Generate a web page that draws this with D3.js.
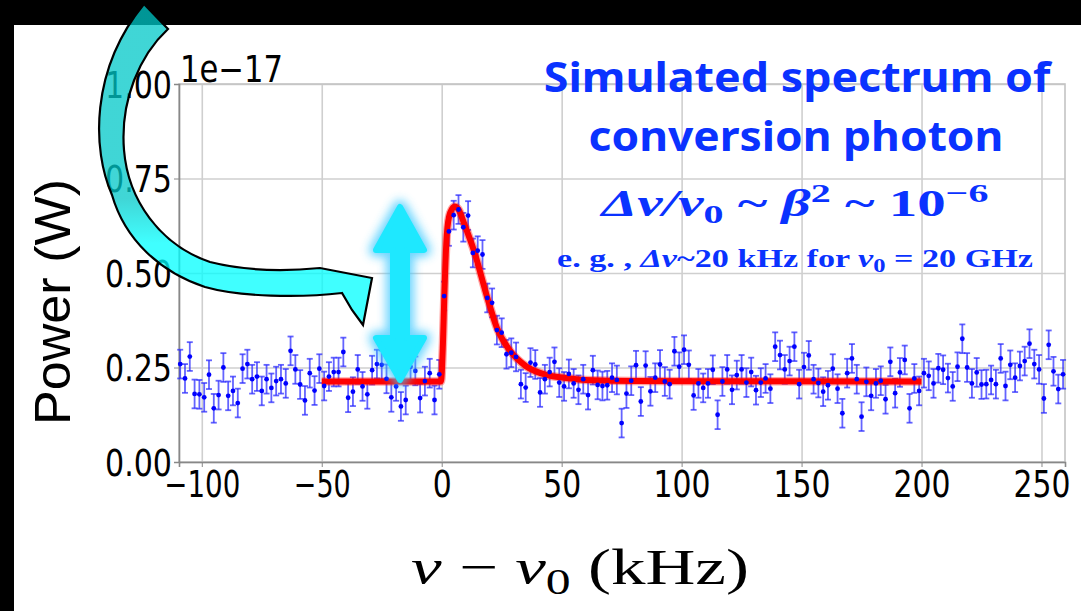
<!DOCTYPE html>
<html>
<head>
<meta charset="utf-8">
<script src="https://cdn.jsdelivr.net/npm/d3@7"></script>
<style>
  body { margin: 0; background: #fff; }
  svg { display: block; }
</style>
</head>
<body>
<div id="chart"></div>
<script>
// Data (power in units of 1e-17 W)
var freqStart = -109, freqStep = 2;
var powerVals = [
  0.259,0.221,0.279,0.180,0.179,0.171,0.231,0.142,0.177,0.250,
  0.175,0.188,0.156,0.247,0.259,0.219,0.226,0.188,0.219,0.196,
  0.214,0.219,0.208,0.294,0.245,0.205,0.163,0.235,0.189,0.247,
  0.201,0.226,0.238,0.238,0.291,0.170,0.186,0.245,0.200,0.179,
  0.243,0.259,0.257,0.220,0.171,0.200,0.147,0.164,0.252,0.241,
  0.169,0.214,0.235,0.164,0.232,0.439,0.610,0.653,0.668,0.621,
  0.652,0.553,0.559,0.549,0.434,0.421,0.349,0.342,0.285,0.289,
  0.278,0.206,0.197,0.263,0.258,0.184,0.219,0.238,0.265,0.210,
  0.200,0.233,0.208,0.191,0.219,0.177,0.243,0.204,0.201,0.203,
  0.223,0.217,0.103,0.181,0.215,0.256,0.160,0.255,0.187,0.223,
  0.258,0.213,0.206,0.293,0.252,0.297,0.257,0.176,0.208,0.196,
  0.208,0.244,0.125,0.213,0.245,0.191,0.230,0.245,0.210,0.238,
  0.190,0.210,0.221,0.194,0.305,0.283,0.245,0.267,0.305,0.206,
  0.251,0.282,0.219,0.209,0.186,0.203,0.247,0.194,0.129,0.235,
  0.274,0.219,0.120,0.212,0.175,0.208,0.215,0.166,0.265,0.182,
  0.237,0.270,0.142,0.221,0.188,0.235,0.228,0.208,0.248,0.244,
  0.222,0.200,0.252,0.326,0.250,0.208,0.237,0.205,0.206,0.217,
  0.206,0.274,0.201,0.257,0.223,0.254,0.267,0.313,0.259,0.245,
  0.168,0.310,0.240,0.193,0.232
];
var powerErr = 0.038;

// fitted curve (red)
var fitX = [-50, -0.3, 0.5, 1.1, 2.1, 3.5, 5.5, 7, 9.5, 13.5, 19, 23, 28.5, 35, 44, 51, 60, 80, 200];
var fitY = [0.213, 0.213, 0.31, 0.44, 0.60, 0.659, 0.676, 0.668, 0.628, 0.558, 0.435, 0.355, 0.294, 0.254, 0.230, 0.223, 0.217, 0.214, 0.213];

var xTicks = [-100, -50, 0, 50, 100, 150, 200, 250];
var yTicks = [0, 0.25, 0.5, 0.75, 1.0];

var points = powerVals.map(function(v, i) {
  return {f: freqStart + i * freqStep, p: v};
});
var fitData = fitX.map(function(x, i) { return {f: x, p: fitY[i]}; });

// Set up chart
var svgWidth = 1081, svgHeight = 611;
var margin = {top: 84, right: 16, bottom: 149, left: 179};
var width = svgWidth - margin.left - margin.right;
var height = svgHeight - margin.top - margin.bottom;

var svg = d3.select('#chart').append('svg')
  .attr('width', svgWidth)
  .attr('height', svgHeight);

svg.append('rect').attr('width', svgWidth).attr('height', svgHeight).attr('fill', '#fff');
svg.append('rect').attr('width', svgWidth).attr('height', 25).attr('fill', '#000');
svg.append('rect').attr('width', 14).attr('height', svgHeight).attr('fill', '#000');

var defs = svg.append('defs');
var grad = defs.append('linearGradient').attr('id', 'arrowGrad')
  .attr('gradientUnits', 'userSpaceOnUse')
  .attr('x1', 0).attr('y1', 0).attr('x2', 0).attr('y2', 320);
grad.append('stop').attr('offset', '0%').attr('stop-color', 'rgb(0,200,200)');
grad.append('stop').attr('offset', '62%').attr('stop-color', 'rgb(0,200,200)');
grad.append('stop').attr('offset', '76%').attr('stop-color', 'rgb(0,255,255)');
grad.append('stop').attr('offset', '100%').attr('stop-color', 'rgb(0,255,255)');
var glow = defs.append('filter').attr('id', 'glow')
  .attr('x', '-50%').attr('y', '-20%').attr('width', '200%').attr('height', '140%');
glow.append('feGaussianBlur').attr('stdDeviation', 5);

var chart = svg.append('g')
  .attr('transform', `translate(${margin.left}, ${margin.top})`);

var x = d3.scaleLinear().domain([-109.5, 259.8]).range([0, width]);
var y = d3.scaleLinear().domain([0, 1]).range([height, 0]);

// grid
chart.append('g')
  .attr('transform', `translate(0, ${height})`)
  .call(d3.axisBottom(x).tickValues(xTicks).tickSize(-height).tickFormat(''))
  .call(g => g.select('.domain').remove())
  .call(g => g.selectAll('line').attr('stroke', '#cfcfcf').attr('stroke-width', 1.6));
chart.append('g')
  .call(d3.axisLeft(y).tickValues(yTicks).tickSize(-width).tickFormat(''))
  .call(g => g.select('.domain').remove())
  .call(g => g.selectAll('line').attr('stroke', '#cfcfcf').attr('stroke-width', 1.6));

// frame
chart.append('rect')
  .attr('width', width).attr('height', height)
  .attr('fill', 'none').attr('stroke', '#c4c4c4').attr('stroke-width', 1.6);

function labelWidth(s) {
  var w = 0;
  for (var c of s) w += (c === '.') ? 10 : 19;
  return w;
}

// axes
var fmtX = d => d3.format('d')(d).replace('-', '\u2212');
var xAxis = chart.append('g')
  .attr('transform', `translate(0, ${height})`)
  .call(d3.axisBottom(x).tickValues(xTicks).tickSize(5).tickPadding(3).tickFormat(fmtX));
xAxis.select('.domain').attr('stroke', '#888').attr('stroke-width', 1.6);
xAxis.selectAll('line').attr('stroke', '#888');
xAxis.selectAll('text')
  .attr('fill', '#000')
  .style('font-family', 'DejaVu Sans')
  .style('font-size', '37px')
  .attr('dy', '0.72em')
  .attr('textLength', d => labelWidth(fmtX(d)))
  .attr('lengthAdjust', 'spacingAndGlyphs');

var yAxis = chart.append('g')
  .call(d3.axisLeft(y).tickValues(yTicks).tickSize(5).tickPadding(2).tickFormat(d3.format('.2f')));
yAxis.select('.domain').attr('stroke', '#888').attr('stroke-width', 1.6);
yAxis.selectAll('line').attr('stroke', '#888');
yAxis.selectAll('text')
  .attr('fill', '#000')
  .style('font-family', 'DejaVu Sans')
  .style('font-size', '37px')
  .attr('dy', '0.36em')
  .attr('textLength', d => labelWidth(d3.format('.2f')(d)))
  .attr('lengthAdjust', 'spacingAndGlyphs');

chart.append('text')
  .attr('x', 1).attr('y', -2)
  .style('font-family', 'DejaVu Sans')
  .style('font-size', '37px')
  .attr('textLength', 103).attr('lengthAdjust', 'spacingAndGlyphs')
  .text('1e\u221217');

// error bars
var bars = chart.append('g');
var barColor = 'rgba(40,40,255,0.72)';
bars.selectAll('line.err').data(points).enter().append('line')
  .attr('x1', d => x(d.f)).attr('x2', d => x(d.f))
  .attr('y1', d => y(d.p - powerErr)).attr('y2', d => y(d.p + powerErr))
  .attr('stroke', barColor).attr('stroke-width', 1.8);
[-1, 1].forEach(function(s) {
  bars.selectAll('line.cap' + s).data(points).enter().append('line')
    .attr('x1', d => x(d.f) - 3).attr('x2', d => x(d.f) + 3)
    .attr('y1', d => y(d.p + s * powerErr)).attr('y2', d => y(d.p + s * powerErr))
    .attr('stroke', barColor).attr('stroke-width', 1.8);
});

// fit line
var line = d3.line().x(d => x(d.f)).y(d => y(d.p)).curve(d3.curveMonotoneX);
chart.append('path').datum(fitData)
  .attr('d', line).attr('fill', 'none')
  .attr('stroke', 'rgba(255,0,0,0.35)').attr('stroke-width', 8.5)
  .attr('stroke-linejoin', 'round');
chart.append('path').datum(fitData)
  .attr('d', line).attr('fill', 'none')
  .attr('stroke', '#ff0000').attr('stroke-width', 6)
  .attr('stroke-linejoin', 'round');

// data points
chart.selectAll('circle').data(points).enter().append('circle')
  .attr('cx', d => x(d.f)).attr('cy', d => y(d.p))
  .attr('r', 2.4).attr('fill', '#0000ff');

// Title texts
var blue = '#0a32ff';
function fitWidth(sel, w, cx) {
  var bw = sel.node().getBBox().width;
  var k = w / bw;
  sel.attr('transform', `translate(${cx},0) scale(${k},1) translate(${-cx},0)`);
}
var t1 = svg.append('text').attr('x', 797).attr('y', 92)
  .attr('text-anchor', 'middle').attr('fill', blue)
  .style('font-family', 'Noto Sans').style('font-weight', 700).style('font-size', '41px')
  .text('Simulated spectrum of');
fitWidth(t1, 509, 797);
var t2 = svg.append('text').attr('x', 796).attr('y', 151)
  .attr('text-anchor', 'middle').attr('fill', blue)
  .style('font-family', 'Noto Sans').style('font-weight', 700).style('font-size', '41px')
  .text('conversion photon');
fitWidth(t2, 415, 796);

var t3 = svg.append('text').attr('x', 795).attr('y', 216)
  .attr('text-anchor', 'middle').attr('fill', blue)
  .style('font-family', 'Liberation Serif').style('font-weight', 700).style('font-size', '37px');
t3.append('tspan').style('font-style', 'italic').text('\u0394\u03bd/\u03bd');
t3.append('tspan').attr('dy', 7).style('font-size', '26px').text('0');
t3.append('tspan').attr('dy', -7).text('  ~  ');
t3.append('tspan').style('font-style', 'italic').text('\u03b2');
t3.append('tspan').attr('dy', -14).style('font-size', '26px').text('2');
t3.append('tspan').attr('dy', 14).text('  ~  10');
t3.append('tspan').attr('dy', -14).style('font-size', '26px').text('\u22126');
fitWidth(t3, 390, 795);

var t4 = svg.append('text').attr('x', 795).attr('y', 267)
  .attr('text-anchor', 'middle').attr('fill', blue)
  .style('font-family', 'Liberation Serif').style('font-weight', 700).style('font-size', '25px');
t4.append('tspan').text('e. g. , ');
t4.append('tspan').style('font-style', 'italic').text('\u0394\u03bd');
t4.append('tspan').text('~20 kHz for ');
t4.append('tspan').style('font-style', 'italic').text('\u03bd');
t4.append('tspan').attr('dy', 5).style('font-size', '18px').text('0');
t4.append('tspan').attr('dy', -5).text(' = 20 GHz');
fitWidth(t4, 476, 795);

// axis titles
var yl = svg.append('text')
  .attr('transform', 'translate(70, 302) rotate(-90)')
  .attr('text-anchor', 'middle')
  .style('font-family', 'Liberation Sans').style('font-size', '50px')
  .attr('textLength', 246).attr('lengthAdjust', 'spacingAndGlyphs')
  .text('Power (W)');

var xl = svg.append('text').attr('x', 580).attr('y', 584)
  .attr('text-anchor', 'middle')
  .style('font-family', 'Liberation Serif').style('font-size', '50px');
xl.append('tspan').style('font-style', 'italic').text('\u03bd');
xl.append('tspan').text(' \u2212 ');
xl.append('tspan').style('font-style', 'italic').text('\u03bd');
xl.append('tspan').attr('dy', 10).style('font-size', '36px').text('0');
xl.append('tspan').attr('dy', -10).text(' (kHz)');
fitWidth(xl, 338, 580);

// glowing double arrow
var dbl = 'M400,207 L424,250 L407,250 L407,338 L424,338 L400,380 L376,338 L393,338 L393,250 L376,250 Z';
svg.append('path').attr('d', dbl)
  .attr('fill', '#3ac8ff').attr('stroke', '#3ac8ff').attr('stroke-width', 14)
  .attr('stroke-linejoin', 'round').attr('opacity', 0.75)
  .attr('filter', 'url(#glow)');
svg.append('path').attr('d', dbl)
  .attr('fill', '#1ee8ff').attr('stroke', '#1ee8ff').attr('stroke-width', 6)
  .attr('stroke-linejoin', 'round');

// curved arrow
var curved = 'M144,4 L168,29 C140,55 120,100 124,150 C128,200 160,245 210,262 ' +
  'C250,272 290,271 320,268 L372,278 L363,325 L352,310 L342,293 ' +
  'C300,298 240,297 205,287 C160,272 125,240 112,195 C92,150 90,70 144,4 Z';
svg.append('path').attr('d', curved)
  .attr('fill', 'url(#arrowGrad)').attr('fill-opacity', 0.75)
  .attr('stroke', '#000').attr('stroke-width', 2.2)
  .attr('stroke-linejoin', 'miter');
</script>
</body>
</html>
